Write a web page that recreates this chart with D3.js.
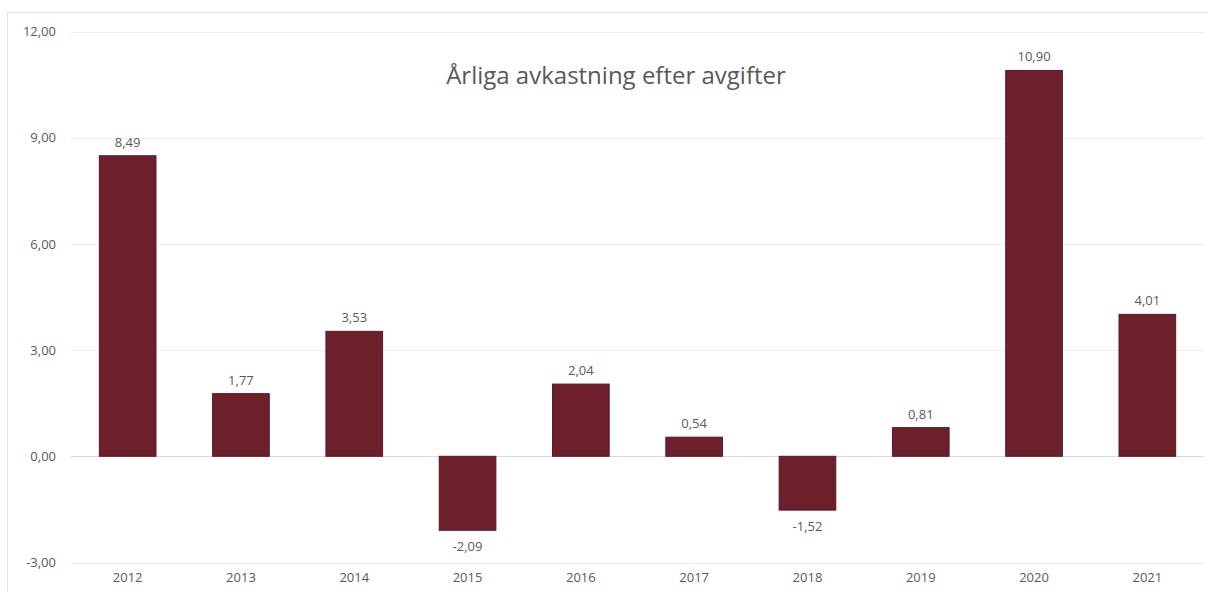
<!DOCTYPE html>
<html lang="sv">
<meta charset="utf-8">
<script src="https://d3js.org/d3.v7.min.js"></script>
<style>
  body { margin: 0; background: #fff; }
  text { font-family: "Open Sans", "DejaVu Sans", sans-serif; fill: #595959; }
</style>
<body>
<svg width="1208" height="592"></svg>
<script>
var years = ["2012","2013","2014","2015","2016","2017","2018","2019","2020","2021"];
var returns = [8.49, 1.77, 3.53, -2.09, 2.04, 0.54, -1.52, 0.81, 10.90, 4.01];
var yTicks = [-3, 0, 3, 6, 9, 12];
var title = "Årliga avkastning efter avgifter";

var svg = d3.select("svg");
// swedish decimal comma, plain hyphen for minus
var fmt = function(v) { return d3.format(".2f")(v).replace(".", ",").replace("\u2212", "-"); };

// outer chart border
svg.append("rect").attr("x", 7.5).attr("y", 12.5).attr("width", 1210).attr("height", 590)
  .attr("fill", "none").attr("stroke", "#e3e3e3");

var x = d3.scaleBand().domain(years).range([71, 1204]).paddingInner(0.5).paddingOuter(0.25);
var y = d3.scaleLinear().domain([-3, 12]).range([562.5, 31.5]);

// gridlines
svg.append("g").selectAll("line").data(yTicks).enter().append("line")
  .attr("x1", 71).attr("x2", 1204)
  .attr("y1", d => Math.round(y(d)) + 0.5).attr("y2", d => Math.round(y(d)) + 0.5)
  .attr("stroke", d => d == 0 ? "#d9d9d9" : "#ececec");

var yAxis = d3.axisLeft(y).tickValues(yTicks).tickFormat(fmt).tickSize(0).tickPadding(0);
svg.append("g").attr("transform", "translate(56,0)").call(yAxis)
  .call(g => g.select(".domain").remove())
  .selectAll("text").attr("font-size", "13px").style("fill", "#595959");

var xAxis = d3.axisBottom(x).tickSize(0).tickPadding(0);
svg.append("g").attr("transform", "translate(0,573)").call(xAxis)
  .call(g => g.select(".domain").remove())
  .selectAll("text").attr("font-size", "13px").style("fill", "#595959");

// bars
svg.append("g").selectAll("rect").data(returns).enter().append("rect")
  .attr("x", (d, i) => x(years[i]))
  .attr("width", x.bandwidth())
  .attr("y", d => y(Math.max(0, d)))
  .attr("height", d => Math.abs(y(d) - y(0)))
  .attr("fill", "#6d1f2b")
  .attr("stroke", "#5a1822").attr("stroke-width", 1);

// value labels
svg.append("g").selectAll("text").data(returns).enter().append("text")
  .attr("x", (d, i) => x(years[i]) + x.bandwidth() / 2)
  .attr("y", d => d >= 0 ? y(d) - 9 : y(d) + 21)
  .attr("text-anchor", "middle")
  .attr("font-size", "13px")
  .text(fmt);

svg.append("text").attr("x", 616).attr("y", 84)
  .attr("text-anchor", "middle").attr("font-size", "24px")
  .text(title);
</script>
</body>
</html>
